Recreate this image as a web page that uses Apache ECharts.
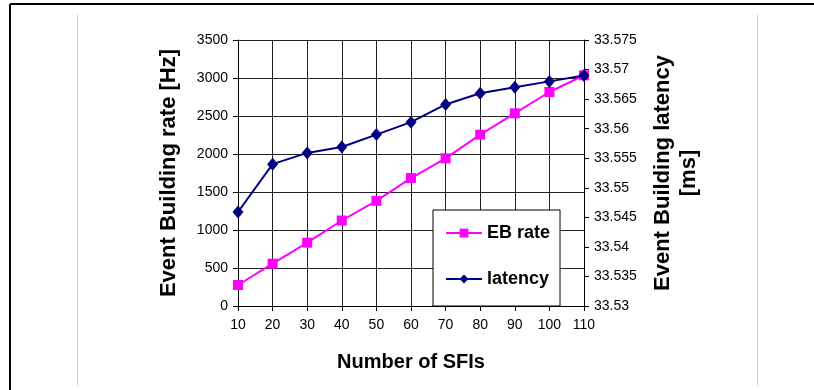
<!DOCTYPE html>
<html>
<head>
<meta charset="utf-8">
<script src="https://cdn.jsdelivr.net/npm/echarts@6/dist/echarts.min.js"></script>
<style>
html,body{margin:0;padding:0;background:#fff;}
#chart{width:814px;height:390px;}
</style>
</head>
<body>
<div id="chart"></div>
<script>
const categories = ['10','20','30','40','50','60','70','80','90','100','110'];
const ebRate = [276, 557, 833, 1125, 1384, 1683, 1943, 2254, 2535, 2816, 3035];
const latency = [33.5459, 33.554, 33.5559, 33.5569, 33.559, 33.5611, 33.5641, 33.566, 33.567, 33.568, 33.569];
const leftTicks = {min: 0, max: 3500, interval: 500};
const rightTicks = {min: 33.53, max: 33.575, interval: 0.005};

const FONT = '"Liberation Sans", Arial, sans-serif';
const chart = echarts.init(document.getElementById('chart'));
const gridColor = '#222';
chart.setOption({
  backgroundColor: '#fff',
  animation: false,
  textStyle: {fontFamily: FONT},
  grid: {left: 238, right: 230, top: 40, bottom: 84, containLabel: false},
  graphic: [
    {type: 'line', shape: {x1: 10, y1: 4, x2: 814, y2: 4}, style: {stroke: '#000', lineWidth: 2}},
    {type: 'line', shape: {x1: 10, y1: 4, x2: 10, y2: 390}, style: {stroke: '#000', lineWidth: 2}},
    {type: 'line', shape: {x1: 77.5, y1: 15, x2: 77.5, y2: 385}, style: {stroke: '#c8c8c8', lineWidth: 1}},
    {type: 'line', shape: {x1: 757.5, y1: 15, x2: 757.5, y2: 385}, style: {stroke: '#c8c8c8', lineWidth: 1}}
  ],
  legend: {
    orient: 'vertical',
    left: 433, top: 210,
    padding: [14, 10, 18, 12],
    itemGap: 28,
    itemWidth: 36, itemHeight: 11,
    backgroundColor: '#fff',
    borderColor: '#000', borderWidth: 1,
    textStyle: {fontFamily: FONT, fontSize: 18, fontWeight: 'bold', color: '#000'},
    data: ['EB rate', 'latency']
  },
  xAxis: {
    type: 'category',
    data: categories,
    boundaryGap: false,
    name: 'Number of SFIs',
    nameLocation: 'middle',
    nameGap: 46,
    nameTextStyle: {fontFamily: FONT, fontSize: 20, fontWeight: 'bold', color: '#000'},
    axisLine: {lineStyle: {color: '#000', width: 1}},
    axisTick: {show: true, alignWithLabel: true, length: 5, lineStyle: {color: '#000'}},
    axisLabel: {fontFamily: FONT, fontSize: 14, color: '#000', margin: 12, interval: 0},
    splitLine: {show: true, lineStyle: {color: gridColor, width: 1}}
  },
  yAxis: [
    {
      type: 'value',
      min: leftTicks.min, max: leftTicks.max, interval: leftTicks.interval,
      name: 'Event Building rate [Hz]',
      nameLocation: 'middle',
      nameGap: 58,
      nameTextStyle: {fontFamily: FONT, fontSize: 22, fontWeight: 'bold', color: '#000'},
      axisLine: {show: true, lineStyle: {color: '#000', width: 1}},
      axisTick: {show: true, length: 5, lineStyle: {color: '#000'}},
      axisLabel: {fontFamily: FONT, fontSize: 14, color: '#000', margin: 10,
        formatter: v => String(v)},
      splitLine: {show: true, lineStyle: {color: gridColor, width: 1}}
    },
    {
      type: 'value',
      position: 'right',
      min: rightTicks.min, max: rightTicks.max, interval: rightTicks.interval,
      name: 'Event Building latency\n[ms]',
      nameLocation: 'middle',
      nameGap: 66,
      nameTextStyle: {fontFamily: FONT, fontSize: 22, fontWeight: 'bold', color: '#000', lineHeight: 26, align: 'center'},
      axisLine: {show: true, lineStyle: {color: '#000', width: 1}},
      axisTick: {show: true, length: 5, lineStyle: {color: '#000'}},
      axisLabel: {fontFamily: FONT, fontSize: 14, color: '#000', margin: 10,
        formatter: v => String(parseFloat(v.toFixed(3)))},
      splitLine: {show: false}
    }
  ],
  series: [
    {
      name: 'EB rate',
      type: 'line',
      yAxisIndex: 0,
      data: ebRate,
      symbol: 'rect',
      symbolSize: 10,
      lineStyle: {color: '#ff00ff', width: 2},
      itemStyle: {color: '#ff00ff'},
      z: 3
    },
    {
      name: 'latency',
      type: 'line',
      yAxisIndex: 1,
      data: latency,
      symbol: 'diamond',
      symbolSize: [11, 13],
      lineStyle: {color: '#000080', width: 2},
      itemStyle: {color: '#000080'},
      z: 4
    }
  ]
});
</script>
</body>
</html>
